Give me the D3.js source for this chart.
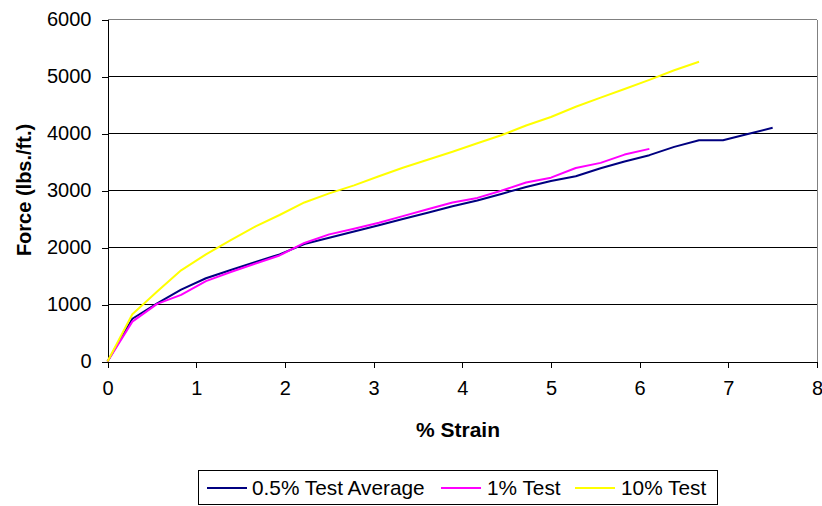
<!DOCTYPE html>
<html>
<head>
<meta charset="utf-8">
<script src="https://cdn.jsdelivr.net/npm/d3@7"></script>
<style>
  html, body { margin: 0; padding: 0; background: #fff; }
  svg { display: block; font-family: "Liberation Sans", Arial, sans-serif; }
</style>
</head>
<body>
<svg id="chart" width="822" height="506"></svg>
<script>
// Strain readings (%) shared by all tests
const strain = [0, 0.28, 0.56, 0.83, 1.11, 1.39, 1.67, 1.94, 2.22, 2.50, 2.78, 3.06, 3.33, 3.61,
                3.89, 4.17, 4.44, 4.72, 5.00, 5.28, 5.56, 5.83, 6.11, 6.39, 6.67, 6.94, 7.22, 7.50];

// Force (lbs./ft.) per test
const avg05 = [0, 750, 1020, 1260, 1460, 1605, 1745, 1880, 2060, 2170, 2280, 2390, 2500, 2610,
               2725, 2825, 2940, 3060, 3165, 3250, 3390, 3510, 3620, 3765, 3880, 3880, 3990, 4100];
const test1 = [0, 700, 1010, 1170, 1410, 1570, 1720, 1860, 2080, 2230, 2330, 2435, 2550, 2670,
               2790, 2870, 2995, 3140, 3225, 3395, 3485, 3630, 3730];
const test10 = [0, 830, 1230, 1600, 1880, 2130, 2370, 2570, 2790, 2950, 3090, 3250, 3400, 3540,
                3680, 3830, 3970, 4140, 4290, 4470, 4630, 4780, 4940, 5110, 5260];

const seriesNames = ["0.5% Test Average", "1% Test", "10% Test"];
const seriesColors = ["#000080", "#FF00FF", "#FFFF00"];
const seriesValues = [avg05, test1, test10];

const xTicks = [0, 1, 2, 3, 4, 5, 6, 7, 8];
const yTicks = [0, 1000, 2000, 3000, 4000, 5000, 6000];

const svg = d3.select("#chart");
const plotLeft = 107.5, plotRight = 817, plotTop = 19.5, plotBottom = 361.5;

const x = d3.scaleLinear().domain([0, 8]).range([plotLeft, plotRight]);
const y = d3.scaleLinear().domain([0, 6000]).range([plotBottom, plotTop]);

// horizontal gridlines
svg.append("g")
  .selectAll("line")
  .data(yTicks.slice(1))
  .join("line")
  .attr("x1", plotLeft).attr("x2", plotRight)
  .attr("y1", d => y(d)).attr("y2", d => y(d))
  .attr("stroke", d => d === 6000 ? "#808080" : "#000")
  .attr("stroke-width", 1)
  .attr("shape-rendering", "crispEdges");

// right border of plot area
svg.append("line")
  .attr("x1", plotRight).attr("x2", plotRight).attr("y1", plotTop).attr("y2", plotBottom)
  .attr("stroke", "#808080").attr("shape-rendering", "crispEdges");

// axes
const xAxis = d3.axisBottom(x).tickValues(xTicks).tickSize(6).tickPadding(13).tickFormat(d3.format("d"));
const yAxis = d3.axisLeft(y).tickValues(yTicks).tickSize(6).tickPadding(10).tickFormat(d3.format("d"));

const gx = svg.append("g").attr("transform", `translate(0,${plotBottom})`).call(xAxis);
const gy = svg.append("g").attr("transform", `translate(${plotLeft},0)`).call(yAxis);

[gx, gy].forEach(g => {
  g.select(".domain").attr("stroke", "#000").attr("shape-rendering", "crispEdges");
  g.selectAll(".tick line").attr("stroke", "#000").attr("shape-rendering", "crispEdges");
  g.selectAll(".tick text")
    .attr("fill", "#000")
    .style("font-family", "'Liberation Sans', Arial, sans-serif")
    .style("font-size", "20px");
});

// series lines
const line = d3.line()
  .x((d, i) => x(strain[i]))
  .y(d => y(d));

svg.append("g")
  .selectAll("path")
  .data(seriesValues)
  .join("path")
  .attr("d", d => line(d))
  .attr("fill", "none")
  .attr("stroke", (d, i) => seriesColors[i])
  .attr("stroke-width", 2)
  .attr("stroke-linejoin", "round");

// axis titles
svg.append("text")
  .attr("x", 458).attr("y", 437)
  .attr("text-anchor", "middle")
  .style("font-weight", "bold").style("font-size", "21px")
  .text("% Strain");

svg.append("text")
  .attr("transform", "translate(31,190) rotate(-90)")
  .attr("text-anchor", "middle")
  .style("font-weight", "bold").style("font-size", "20px")
  .text("Force (lbs./ft.)");

// legend
const legend = svg.append("g");
legend.append("rect")
  .attr("x", 198.5).attr("y", 470.5).attr("width", 519).attr("height", 34)
  .attr("fill", "#fff").attr("stroke", "#000").attr("stroke-width", 1);

const legendItems = [
  { sx: 207, tx: 252 },
  { sx: 441, tx: 487 },
  { sx: 575, tx: 621 }
];
legendItems.forEach((it, i) => {
  legend.append("line")
    .attr("x1", it.sx).attr("x2", it.sx + 40)
    .attr("y1", 488).attr("y2", 488)
    .attr("stroke", seriesColors[i]).attr("stroke-width", 2);
  legend.append("text")
    .attr("x", it.tx).attr("y", 495)
    .style("font-size", "20.8px")
    .text(seriesNames[i]);
});
</script>
</body>
</html>
